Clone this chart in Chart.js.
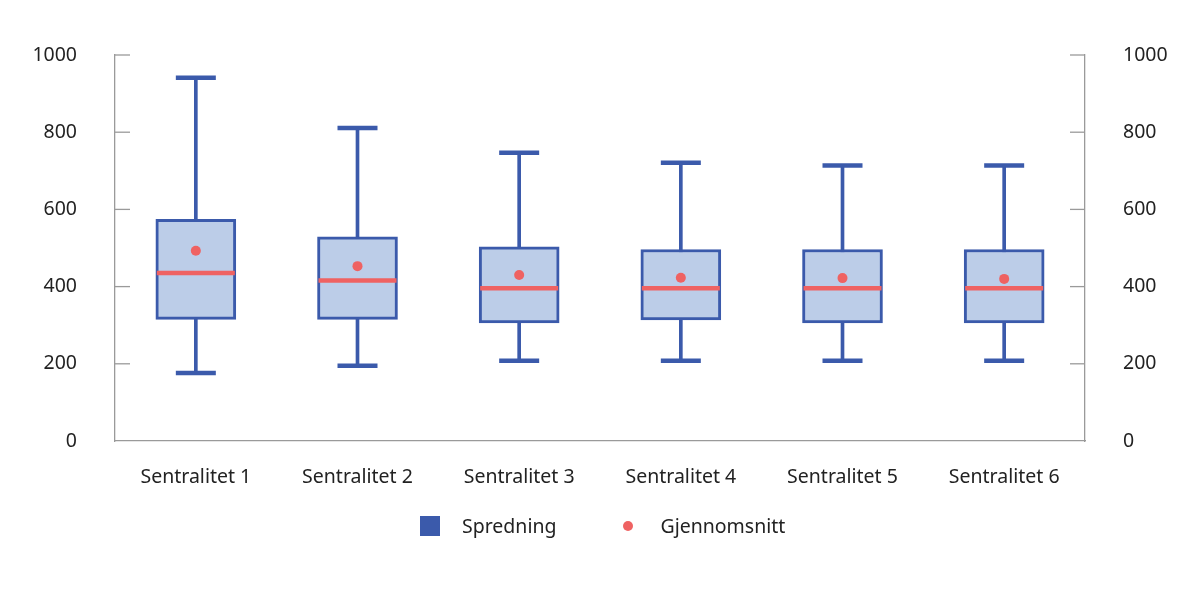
<!DOCTYPE html>
<html>
<head>
<meta charset="utf-8">
<script src="https://cdn.jsdelivr.net/npm/chart.js@4.4.0/dist/chart.umd.min.js"></script>
<style>
  html, body { margin: 0; padding: 0; background: #fff; }
  #wrap { width: 1200px; height: 598px; position: relative; }
  #legend {
    position: absolute; left: 420px; top: 514px; display: flex; align-items: center;
    font-family: 'Noto Sans', 'Open Sans', sans-serif; font-size: 19.5px; color: #222; line-height: 24px;
  }
  #legend .sym { width: 20px; height: 20px; display: flex; align-items: center; justify-content: center; }
  #legend .sq { width: 20px; height: 20px; }
  #legend .dot { width: 10px; height: 10px; border-radius: 50%; }
</style>
</head>
<body>
<div id="wrap">
  <canvas id="boxChart"></canvas>
  <div id="legend"></div>
</div>
<script>
// values
const categories = ['Sentralitet 1', 'Sentralitet 2', 'Sentralitet 3', 'Sentralitet 4', 'Sentralitet 5', 'Sentralitet 6'];
const minValues = [176, 195, 208, 208, 208, 208];
const q1Values = [315, 315, 306, 314, 306, 306];
const medianValues = [435, 416, 396, 396, 396, 396];
const q3Values = [574, 529, 503, 496, 496, 496];
const maxValues = [941, 811, 747, 721, 714, 714];
const meanValues = [493, 453, 430, 423, 422, 420];
const yTickValues = [0, 200, 400, 600, 800, 1000];

const blue = '#3b5aab';
const lightBlue = '#bccde8';
const red = '#ef6262';
const axisGrey = '#9a9a9a';

Chart.defaults.font.family = "'Noto Sans', 'Open Sans', sans-serif";
Chart.defaults.font.size = 19.5;
Chart.defaults.color = '#222';

// tick marks pointing into the plot
const innerTicks = {
  id: 'innerTicks',
  afterDraw(chart) {
    const ctx = chart.ctx;
    ['y', 'y2'].forEach(id => {
      const s = chart.scales[id];
      ctx.save();
      ctx.strokeStyle = axisGrey;
      ctx.lineWidth = 1.3;
      s.ticks.forEach((t, i) => {
        if (t.value === 0) return;
        const py = s.getPixelForTick(i);
        const x0 = s.position === 'left' ? s.right : s.left;
        const x1 = s.position === 'left' ? x0 + 15 : x0 - 15;
        ctx.beginPath();
        ctx.moveTo(x0, py);
        ctx.lineTo(x1, py);
        ctx.stroke();
      });
      ctx.restore();
    });
  }
};

const yScale = (pos) => ({
  position: pos,
  min: 0,
  max: 1000,
  afterBuildTicks: (s) => { s.ticks = yTickValues.map(v => ({ value: v })); },
  grid: { display: true, drawOnChartArea: false, drawTicks: false },
  border: { display: true, color: axisGrey, width: 1.3 },
  ticks: { padding: 38, callback: (v) => String(v) },
  afterFit: (s) => { s.width = 115; }
});

const chart = new Chart(document.getElementById('boxChart'), {
  type: 'bar',
  data: {
    labels: categories,
    datasets: [
      {
        type: 'line', label: 'Gjennomsnitt', data: meanValues, showLine: false,
        pointStyle: 'circle', pointRadius: 5, pointBackgroundColor: red,
        pointBorderWidth: 0, pointBorderColor: red, order: 0, yAxisID: 'y'
      },
      {
        type: 'line', label: 'Median', data: medianValues, showLine: false,
        pointStyle: 'line', pointRadius: 39, pointBorderWidth: 4.5,
        pointBorderColor: red, order: 1, yAxisID: 'y'
      },
      {
        type: 'line', label: 'Maks', data: maxValues, showLine: false,
        pointStyle: 'line', pointRadius: 20, pointBorderWidth: 4.5,
        pointBorderColor: blue, order: 2, yAxisID: 'y'
      },
      {
        type: 'line', label: 'Min', data: minValues, showLine: false,
        pointStyle: 'line', pointRadius: 20, pointBorderWidth: 4.5,
        pointBorderColor: blue, order: 2, yAxisID: 'y'
      },
      {
        type: 'bar', label: 'Spredning',
        data: q1Values.map((v, i) => [v, q3Values[i]]),
        backgroundColor: lightBlue, borderColor: blue, borderWidth: 3,
        borderSkipped: false, barThickness: 80, grouped: false, order: 3, yAxisID: 'y'
      },
      {
        type: 'bar', label: 'Whisker',
        data: minValues.map((v, i) => [v, maxValues[i]]),
        backgroundColor: blue, borderWidth: 0,
        barThickness: 3, grouped: false, order: 4, yAxisID: 'y'
      }
    ]
  },
  options: {
    responsive: true,
    maintainAspectRatio: false,
    animation: false,
    events: [],
    layout: { padding: { top: 55, bottom: 97, left: 0, right: 0 } },
    scales: {
      x: {
        offset: true,
        grid: { display: true, drawOnChartArea: false, drawTicks: false },
        border: { display: true, color: axisGrey, width: 1.3 },
        ticks: { padding: 25, maxRotation: 0 },
        afterFit: (s) => { s.height = 60; }
      },
      y: yScale('left'),
      y2: yScale('right')
    },
    plugins: {
      tooltip: { enabled: false },
      legend: { display: false }
    }
  },
  plugins: [innerTicks]
});

// html legend built from the two shown datasets
const legendEl = document.getElementById('legend');
const shown = [
  { ds: chart.data.datasets[4], shape: 'sq', color: blue },
  { ds: chart.data.datasets[0], shape: 'dot', color: red }
];
shown.forEach((item, i) => {
  const sym = document.createElement('span');
  sym.className = 'sym';
  sym.style.marginLeft = i === 0 ? '0' : '62px';
  const mark = document.createElement('span');
  mark.className = item.shape;
  mark.style.background = item.color;
  sym.appendChild(mark);
  const txt = document.createElement('span');
  txt.textContent = item.ds.label;
  txt.style.marginLeft = '22px';
  legendEl.appendChild(sym);
  legendEl.appendChild(txt);
});
</script>
</body>
</html>
